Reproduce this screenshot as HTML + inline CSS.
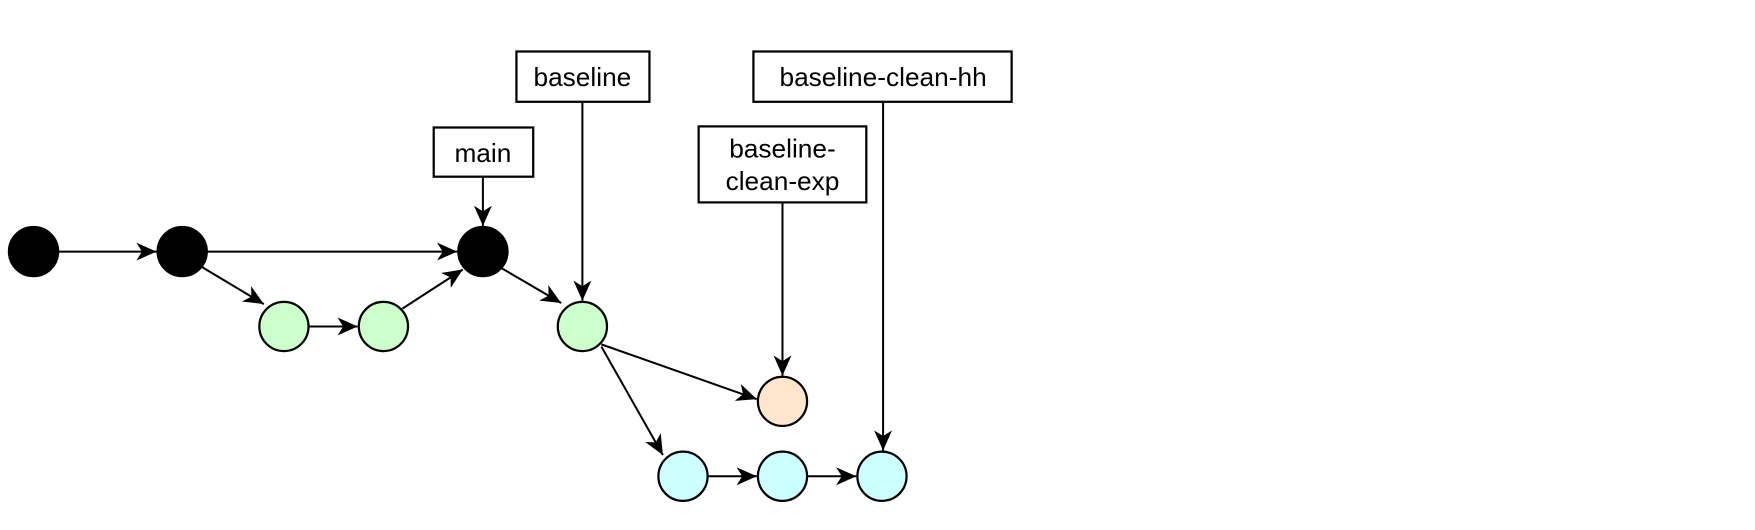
<!DOCTYPE html>
<html><head><style>body{margin:0;background:#fff}svg{display:block}</style></head><body>
<svg width="1755" height="530" viewBox="0 0 1570 474" xmlns="http://www.w3.org/2000/svg">
<defs><marker id="b" markerWidth="20" markerHeight="20" refX="18" refY="8" orient="auto" markerUnits="userSpaceOnUse"><path d="M0,0 L18,8 L0,16 L5,8 Z" fill="#000"/></marker></defs>
<g stroke="#000" stroke-width="1.8" fill="none" marker-end="url(#b)">
<line x1="52" y1="225" x2="140" y2="225"/>
<line x1="185" y1="225" x2="409" y2="225"/>
<line x1="181" y1="239" x2="236" y2="272"/>
<line x1="276" y1="292" x2="320" y2="292"/>
<line x1="360" y1="276" x2="414" y2="241"/>
<line x1="449" y1="240" x2="502" y2="271"/>
<line x1="538" y1="308" x2="677" y2="357"/>
<line x1="538" y1="310" x2="593" y2="407"/>
<line x1="633" y1="426" x2="677" y2="426"/>
<line x1="722" y1="426" x2="766" y2="426"/>
<line x1="432" y1="158" x2="432" y2="202"/>
<line x1="521" y1="91" x2="521" y2="269"/>
<line x1="700" y1="181" x2="700" y2="336"/>
<line x1="790" y1="91" x2="790" y2="403"/>
</g>
<g stroke="#000" stroke-width="2">
<circle cx="30" cy="225" r="22" fill="#000"/>
<circle cx="163" cy="225" r="22" fill="#000"/>
<circle cx="432" cy="225" r="22" fill="#000"/>
<circle cx="254" cy="292" r="22" fill="#ccffcc"/>
<circle cx="343" cy="292" r="22" fill="#ccffcc"/>
<circle cx="521" cy="292" r="22" fill="#ccffcc"/>
<circle cx="700" cy="359" r="22" fill="#ffe6cc"/>
<circle cx="611" cy="426" r="22" fill="#ccffff"/>
<circle cx="700" cy="426" r="22" fill="#ccffff"/>
<circle cx="789" cy="426" r="22" fill="#ccffff"/>
<rect x="388" y="114" width="89" height="44" fill="#fff"/>
<rect x="462" y="46" width="119" height="45" fill="#fff"/>
<rect x="625" y="113" width="150" height="68" fill="#fff"/>
<rect x="674" y="46" width="231" height="45" fill="#fff"/>
</g>
<g font-family="Liberation Sans, sans-serif" font-size="23.5" text-anchor="middle" fill="#000">
<text x="432" y="145">main</text>
<text x="521" y="77">baseline</text>
<text x="700" y="141">baseline-</text>
<text x="700" y="170">clean-exp</text>
<text x="790" y="77">baseline-clean-hh</text>
</g>
</svg>
</body></html>
